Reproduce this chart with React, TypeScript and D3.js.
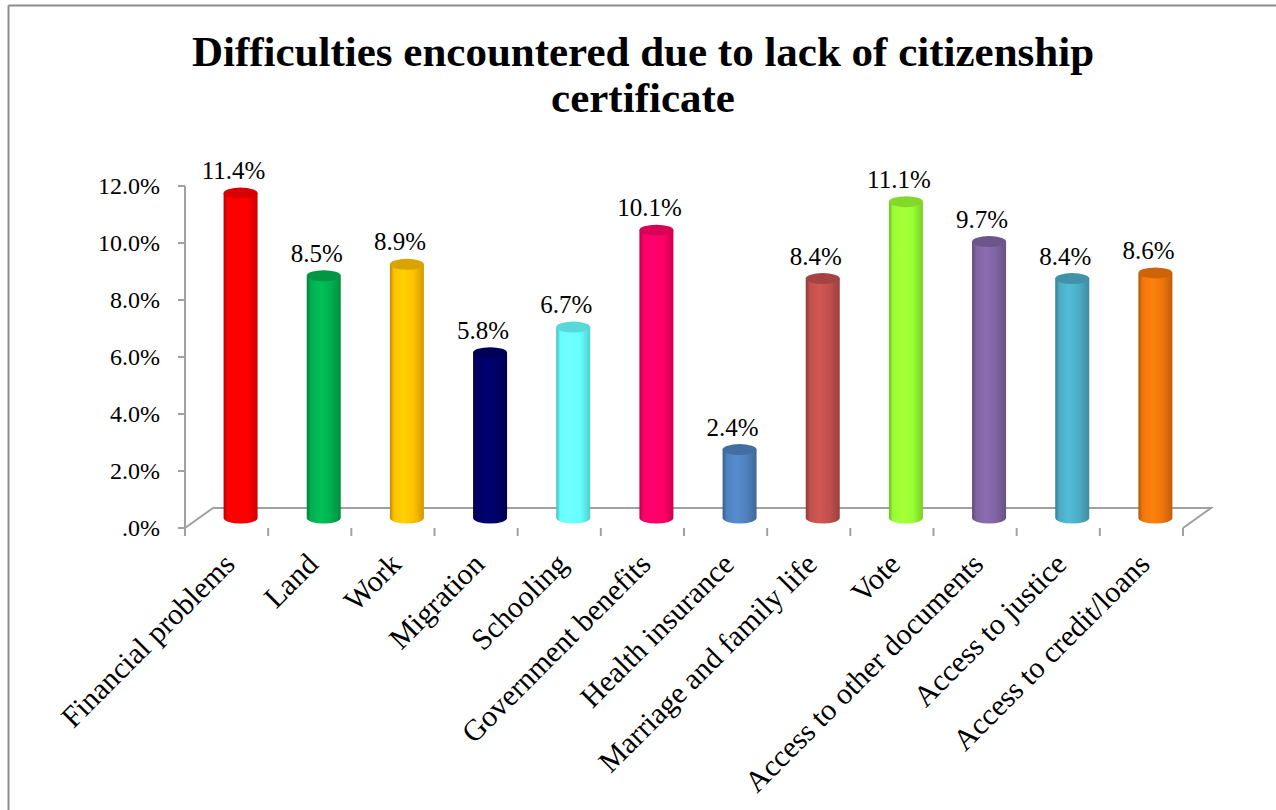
import React from "react";
import * as d3 from "d3";

const categories = [
  "Financial problems",
  "Land",
  "Work",
  "Migration",
  "Schooling",
  "Government benefits",
  "Health insurance",
  "Marriage and family life",
  "Vote",
  "Access to other documents",
  "Access to justice",
  "Access to credit/loans",
];
const values = [11.4, 8.5, 8.9, 5.8, 6.7, 10.1, 2.4, 8.4, 11.1, 9.7, 8.4, 8.6];
const colors = [
  "#FF0000",
  "#00B050",
  "#FFC000",
  "#000066",
  "#66FFFF",
  "#FF0066",
  "#4F81BD",
  "#C0504D",
  "#99FF33",
  "#8064A2",
  "#4BACC6",
  "#F0760C",
];
const yTicks = [0, 2, 4, 6, 8, 10, 12];
const titleLines = ["Difficulties encountered due to lack of citizenship", "certificate"];

const W = 1276;
const H = 810;
const FONT = "Liberation Serif, Times New Roman, serif";

export default function App() {
  const x0 = 185;
  const x1 = 1183;
  const yBase = 528;
  const yTop = 186;
  const depthX = 28;
  const depthY = -20;
  const axisColor = "#A0A0A0";

  const x = d3.scaleBand<string>().domain(categories).range([x0, x1]).padding(0);
  const y = d3.scaleLinear().domain([0, 12]).range([yBase, yTop]);
  const bw = x.bandwidth();
  const rx = 17;
  const ry = 5.5;

  const floor = d3.line()([
    [x0, yBase],
    [x0 + depthX, yBase + depthY],
    [x1 + depthX, yBase + depthY],
    [x1, yBase],
  ]);

  const textStyle = { fontFamily: FONT };

  return (
    <svg
      width={W}
      height={H}
      style={{ position: "absolute", left: 0, top: 0, background: "#fff" }}
    >
      <defs>
        {colors.map((c, i) => {
          const dark = d3.color(c)!.darker(0.9).formatHex();
          const mid = d3.color(c)!.formatHex();
          const light = d3.color(c)!.brighter(0.25).formatHex();
          const dark2 = d3.color(c)!.darker(0.6).formatHex();
          return (
            <linearGradient key={i} id={`g${i}`} x1="0" x2="1" y1="0" y2="0">
              <stop offset="0" stopColor={dark} />
              <stop offset="0.12" stopColor={mid} />
              <stop offset="0.4" stopColor={light} />
              <stop offset="0.7" stopColor={mid} />
              <stop offset="1" stopColor={dark2} />
            </linearGradient>
          );
        })}
      </defs>
      <rect x={0} y={0} width={W} height={H} fill="#fff" />
      <line x1={8.5} y1={5.5} x2={8.5} y2={H} stroke="#8C8C8C" strokeWidth={2} />
      <line x1={8.5} y1={5.5} x2={W} y2={5.5} stroke="#8C8C8C" strokeWidth={2} />

      {titleLines.map((t, i) => (
        <text
          key={i}
          x={643}
          y={66 + i * 46}
          textAnchor="middle"
          fontSize={43}
          fontWeight="bold"
          fill="#000"
          style={textStyle}
        >
          {t}
        </text>
      ))}

      <line x1={x0} y1={y(12)} x2={x0} y2={yBase} stroke={axisColor} strokeWidth={2} />
      {yTicks.map((t) => (
        <g key={t}>
          <line x1={x0 - 7} x2={x0} y1={y(t)} y2={y(t)} stroke={axisColor} strokeWidth={2} />
          <text x={160} y={y(t) + 8} textAnchor="end" fontSize={24} fill="#000" style={textStyle}>
            {t === 0 ? ".0%" : `${t.toFixed(1)}%`}
          </text>
        </g>
      ))}

      <path d={floor!} fill="none" stroke={axisColor} strokeWidth={2} />
      {categories.map((c) => (
        <line
          key={c}
          x1={x(c)!}
          x2={x(c)!}
          y1={yBase}
          y2={yBase + 8}
          stroke={axisColor}
          strokeWidth={2}
        />
      ))}
      <line x1={x1} x2={x1} y1={yBase} y2={yBase + 8} stroke={axisColor} strokeWidth={2} />

      {categories.map((c, i) => {
        const cx = x(c)! + bw / 2 + depthX / 2;
        const by = yBase + depthY / 2;
        const ty = y(values[i]) + depthY / 2;
        const topFill = d3.color(colors[i])!.darker(0.45).formatHex();
        return (
          <g key={c}>
            <path
              d={`M${cx - rx},${ty} L${cx - rx},${by} A${rx},${ry} 0 0 0 ${cx + rx},${by} L${cx + rx},${ty} Z`}
              fill={`url(#g${i})`}
            />
            <ellipse cx={cx} cy={ty} rx={rx} ry={ry} fill={topFill} />
          </g>
        );
      })}

      {categories.map((c, i) => (
        <text
          key={c}
          x={x(c)! + bw / 2 + 7}
          y={y(values[i]) - 24}
          textAnchor="middle"
          fontSize={25}
          fill="#000"
          style={textStyle}
        >
          {`${values[i].toFixed(1)}%`}
        </text>
      ))}

      {categories.map((c) => {
        const px = x(c)! + bw / 2 + 10;
        const py = 566;
        return (
          <text
            key={c}
            transform={`translate(${px},${py}) rotate(-45)`}
            textAnchor="end"
            fontSize={30}
            fill="#000"
            style={textStyle}
          >
            {c}
          </text>
        );
      })}
    </svg>
  );
}
